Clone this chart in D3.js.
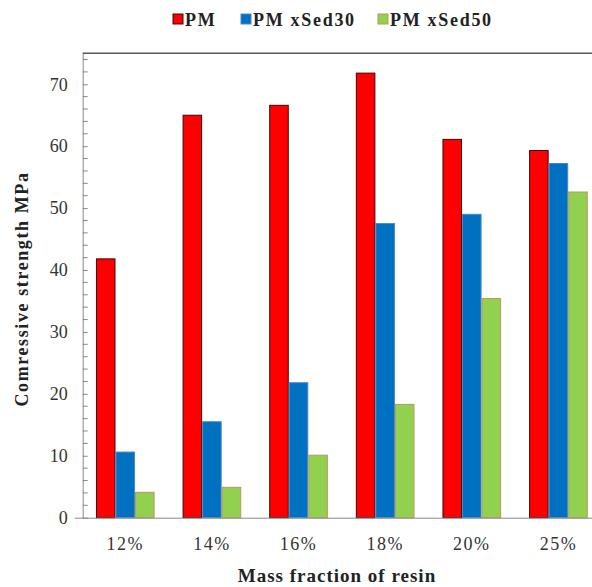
<!DOCTYPE html>
<html><head><meta charset="utf-8">
<script src="https://cdn.jsdelivr.net/npm/d3@7"></script>
<style>body{margin:0;background:#fff} svg text{font-family:"Liberation Serif","Times New Roman",serif !important;}</style>
</head><body>
<svg id="c" width="592" height="587"></svg>
<script>
const categories = ["12%","14%","16%","18%","20%","25%"];
const seriesNames = ["PM","PM xSed30","PM xSed50"];
const PM = [41.8, 65.0, 66.6, 71.8, 61.1, 59.3];
const PMxSed30 = [10.6, 15.5, 21.8, 47.5, 49.0, 57.2];
const PMxSed50 = [4.1, 4.9, 10.1, 18.3, 35.4, 52.6];
const yTicks = [0,10,20,30,40,50,60,70];
const seriesValues = [PM, PMxSed30, PMxSed50];
const fills = ["#ff0000","#0070c0","#92d050"];
const strokes = ["#3a0a0a","#4a86c8","#b89a5a"];

const svg = d3.select("#c");
const pLeft = 82.7, pTop = 53.3, pBottom = 517.7, pRight = 601;

const x = d3.scaleBand().domain(categories).range([pLeft, pRight]).paddingInner(0.323).paddingOuter(0.153);
const xs = d3.scaleBand().domain(seriesNames).range([0, x.bandwidth()]);
const y = d3.scaleLinear().domain([0,75]).range([pBottom, pTop]);

// top border
svg.append("line").attr("x1", pLeft).attr("x2", 592).attr("y1", pTop).attr("y2", pTop)
  .attr("stroke", "#555").attr("stroke-width", 1.5);

// bars
seriesNames.forEach((s, si) => {
  svg.append("g").selectAll("rect").data(seriesValues[si]).join("rect")
    .attr("x", (d, i) => x(categories[i]) + xs(s) + 0.5)
    .attr("width", xs.bandwidth() - 1)
    .attr("y", d => y(d))
    .attr("height", d => y(0) - y(d))
    .attr("fill", fills[si])
    .attr("stroke", strokes[si]).attr("stroke-width", 1);
});

// y axis
const yAxis = svg.append("g").attr("transform", `translate(${pLeft},0)`)
  .call(d3.axisLeft(y).tickValues(yTicks).tickSize(8).tickPadding(7).tickSizeOuter(0));
yAxis.select(".domain").attr("stroke", "#888");
yAxis.selectAll(".tick line").attr("stroke", "#888").attr("x2", 5);
yAxis.selectAll(".tick text").attr("font-size", 18).attr("fill", "#333");
// minor ticks
const minor = d3.range(0, 75, 2).filter(v => v % 10 !== 0);
svg.append("g").selectAll("line").data(minor).join("line")
  .attr("x1", pLeft).attr("x2", pLeft + 5)
  .attr("y1", d => y(d)).attr("y2", d => y(d))
  .attr("stroke", "#888");
// x axis
const xAxis = svg.append("g").attr("transform", `translate(0,${pBottom})`)
  .call(d3.axisBottom(x).tickSize(0).tickPadding(20).tickSizeOuter(0));
xAxis.select(".domain").attr("stroke", "#888").attr("d", `M${pLeft-8},0.5H592`);
xAxis.selectAll(".tick text").attr("font-size", 18).attr("letter-spacing", 1.5).attr("fill", "#333");

// axis titles
svg.append("text").attr("x", 337).attr("y", 582).attr("text-anchor", "middle")
  .attr("font-weight", "bold").attr("font-size", 19).attr("letter-spacing", 1).attr("fill", "#222")
  .text("Mass fraction of resin");
svg.append("text").attr("transform", "translate(28,289) rotate(-90)").attr("text-anchor", "middle")
  .attr("font-weight", "bold").attr("font-size", 18).attr("letter-spacing", 1.6).attr("fill", "#222")
  .text("Comressive strength MPa");

// legend
const legX = [173, 241, 378];
seriesNames.forEach((s, i) => {
  svg.append("rect").attr("x", legX[i]).attr("y", 14).attr("width", 10).attr("height", 10)
    .attr("fill", fills[i]).attr("stroke", strokes[i]);
  svg.append("text").attr("x", legX[i] + 12).attr("y", 26)
    .attr("font-weight", "bold").attr("font-size", 18).attr("letter-spacing", 1.7).attr("fill", "#222")
    .text(s);
});
</script>
</body></html>
